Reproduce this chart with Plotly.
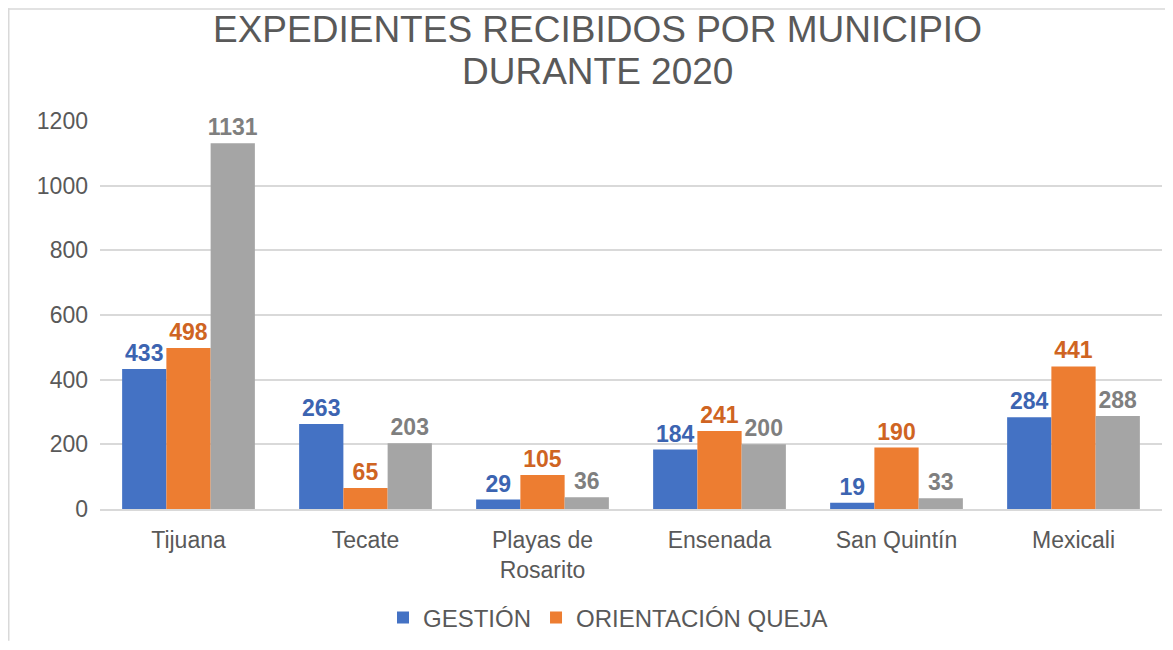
import plotly.graph_objects as go

municipios = ["Tijuana", "Tecate", "Playas de<br>Rosarito", "Ensenada", "San Quintín", "Mexicali"]
gestion = [433, 263, 29, 184, 19, 284]
orientacion_queja = [498, 65, 105, 241, 190, 441]
tercera_serie = [1131, 203, 36, 200, 33, 288]
y_ticks = [0, 200, 400, 600, 800, 1000, 1200]
title_lines = ["EXPEDIENTES RECIBIDOS POR MUNICIPIO", "DURANTE 2020"]

FONT = "Liberation Sans, Arial, sans-serif"
W, H = 1157, 634
L, R, T, B = 92, 3, 113, 132
PW, PH = W - L - R, H - T - B


def px_x(p):
    return (p - L) / PW


def px_y(p):
    return (H - B - p) / PH


series = [
    ("GESTIÓN", gestion, "#4472C4", "#3C64B1", True),
    ("ORIENTACIÓN QUEJA", orientacion_queja, "#ED7D31", "#CF6422", True),
    ("", tercera_serie, "#A5A5A5", "#7F7F7F", False),
]

fig = go.Figure()
for name, vals, col, tcol, show in series:
    fig.add_trace(go.Bar(
        x=municipios, y=vals, name=name, showlegend=show,
        marker=dict(color=col, line=dict(width=0)),
        text=[str(v) for v in vals], textposition="outside",
        textfont=dict(family=FONT, size=23, color=tcol, weight="bold"),
        constraintext="none",
        cliponaxis=False,
    ))

fig.update_layout(
    width=W, height=H,
    paper_bgcolor="white", plot_bgcolor="white",
    margin=dict(l=L, r=R, t=T, b=B),
    barmode="group", bargap=0.25, bargroupgap=0,
    font=dict(family=FONT, size=22, color="#595959"),
    legend=dict(orientation="h", x=px_x(600), xanchor="center", y=px_y(610), yanchor="middle",
                font=dict(family=FONT, size=24, color="#595959"),
                itemwidth=30, traceorder="normal"),
)
for i, line in enumerate(title_lines):
    fig.add_annotation(text=line, xref="paper", yref="paper", x=px_x(589.5), y=px_y(21 + 42 * i),
                       xanchor="center", yanchor="middle", showarrow=False,
                       font=dict(family=FONT, size=37, color="#595959"))

fig.update_xaxes(showline=True, linecolor="#D9D9D9", linewidth=1.5, ticks="",
                 ticklabelstandoff=10,
                 tickfont=dict(family=FONT, size=23, color="#595959"))
fig.update_yaxes(range=[0, 1200], tickvals=y_ticks, showgrid=True, gridcolor="#D9D9D9",
                 gridwidth=1.5, zeroline=False, showline=False, ticks="",
                 ticklabelstandoff=11,
                 tickfont=dict(family=FONT, size=23, color="#595959"))

# chart frame edges visible at left and top
fig.add_shape(type="line", xref="paper", yref="paper", x0=px_x(0.75), x1=px_x(0.75), y0=px_y(H), y1=px_y(0),
              line=dict(color="#D9D9D9", width=1.5))
fig.add_shape(type="line", xref="paper", yref="paper", x0=px_x(0), x1=px_x(W), y0=px_y(0.75), y1=px_y(0.75),
              line=dict(color="#D9D9D9", width=1.5))

fig.write_html("out.html")
